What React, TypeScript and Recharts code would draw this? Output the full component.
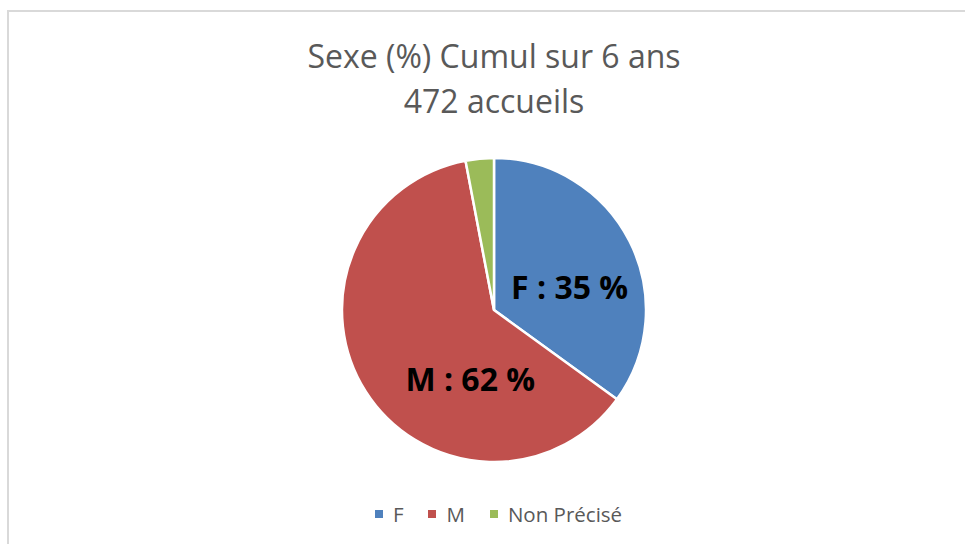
import { PieChart, Pie, Cell } from 'recharts';

const categories = ['F', 'M', 'Non Précisé'];
const percentages = [35, 62, 3];
const titleLines = ['Sexe (%) Cumul sur 6 ans', '472 accueils'];

const COLORS = ['#4F81BD', '#C0504D', '#9BBB59'];
const FONT = '"Open Sans", sans-serif';

// labels that Excel placed by "best fit": polar offset from center (deg, fraction of radius)
const LABEL_POS: Record<string, { angle: number; r: number }> = {
    F: { angle: 17, r: 0.52 },
    M: { angle: -109, r: 0.48 },
};

const data = categories.map((name, i) => ({ name, value: percentages[i] }));

const renderLabel = (props: any) => {
    const { cx, cy, outerRadius, name, value } = props;
    const pos = LABEL_POS[name];
    if (!pos) return null;
    const rad = (pos.angle * Math.PI) / 180;
    const x = cx + outerRadius * pos.r * Math.cos(rad);
    const y = cy - outerRadius * pos.r * Math.sin(rad);
    return (
        <text
            x={x}
            y={y}
            textAnchor="middle"
            dominantBaseline="central"
            fontFamily={FONT}
            fontWeight={700}
            fontSize={32}
            fill="#000000"
        >
            {`${name} : ${value} %`}
        </text>
    );
};

export default function App() {
    return (
        <div
            style={{
                position: 'absolute',
                left: 0,
                top: 0,
                width: 965,
                height: 544,
                overflow: 'hidden',
                background: '#ffffff',
            }}
        >
            <div
                style={{
                    position: 'absolute',
                    left: 7,
                    top: 10,
                    width: 1000,
                    height: 600,
                    border: '2px solid #d9d9d9',
                }}
            />
            <PieChart
                width={965}
                height={544}
                margin={{ top: 0, right: 0, bottom: 0, left: 0 }}
                style={{ position: 'absolute', left: 0, top: 0 }}
            >
                {titleLines.map((line, i) => (
                    <text
                        key={line}
                        x={494}
                        y={55 + i * 45}
                        textAnchor="middle"
                        dominantBaseline="central"
                        fontFamily={FONT}
                        fontSize={32}
                        fill="#595959"
                    >
                        {line}
                    </text>
                ))}
                <Pie
                    data={data}
                    dataKey="value"
                    nameKey="name"
                    cx={494}
                    cy={310}
                    outerRadius={152}
                    startAngle={90}
                    endAngle={-270}
                    stroke="#ffffff"
                    strokeWidth={2.5}
                    label={renderLabel}
                    labelLine={false}
                    isAnimationActive={false}
                >
                    {data.map((entry, index) => (
                        <Cell key={entry.name} fill={COLORS[index]} />
                    ))}
                </Pie>
            </PieChart>
            {/* Legend */}
            <div
                style={{
                    position: 'absolute',
                    left: 0,
                    top: 500,
                    width: 997,
                    display: 'flex',
                    justifyContent: 'center',
                    gap: 25,
                    fontFamily: FONT,
                    fontSize: 20.5,
                    color: '#595959',
                }}
            >
                {data.map((item, index) => (
                    <span key={item.name} style={{ display: 'flex', alignItems: 'center', gap: 10 }}>
                        <span style={{ width: 8, height: 8, backgroundColor: COLORS[index] }} />
                        {item.name}
                    </span>
                ))}
            </div>
        </div>
    );
}
